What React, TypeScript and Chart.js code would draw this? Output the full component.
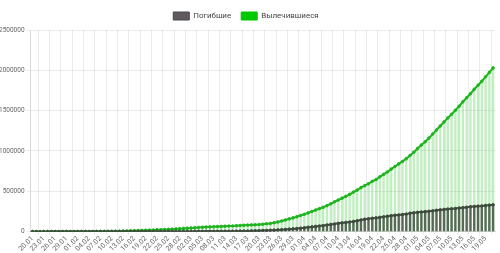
import React, { useEffect, useRef } from "react";
import { Chart, registerables } from "chart.js";

Chart.register(...registerables);

const dates: string[] = [
  "20.01","21.01","22.01","23.01","24.01","25.01","26.01","27.01","28.01","29.01","30.01","31.01",
  "01.02","02.02","03.02","04.02","05.02","06.02","07.02","08.02","09.02","10.02","11.02","12.02","13.02","14.02","15.02","16.02","17.02","18.02","19.02","20.02","21.02","22.02","23.02","24.02","25.02","26.02","27.02","28.02","29.02",
  "01.03","02.03","03.03","04.03","05.03","06.03","07.03","08.03","09.03","10.03","11.03","12.03","13.03","14.03","15.03","16.03","17.03","18.03","19.03","20.03","21.03","22.03","23.03","24.03","25.03","26.03","27.03","28.03","29.03","30.03","31.03",
  "01.04","02.04","03.04","04.04","05.04","06.04","07.04","08.04","09.04","10.04","11.04","12.04","13.04","14.04","15.04","16.04","17.04","18.04","19.04","20.04","21.04","22.04","23.04","24.04","25.04","26.04","27.04","28.04","29.04","30.04",
  "01.05","02.05","03.05","04.05","05.05","06.05","07.05","08.05","09.05","10.05","11.05","12.05","13.05","14.05","15.05","16.05","17.05","18.05","19.05","20.05","21.05",
];

const deaths: number[] = [
  6, 9, 17, 18, 26, 42, 56, 82, 131, 133, 171, 213,
  259, 362, 426, 492, 564, 634, 719, 806, 906, 1013, 1113, 1118, 1371, 1523, 1666, 1770, 1868, 2007, 2122, 2247, 2251, 2458, 2469, 2629, 2708, 2770, 2814, 2872, 2941,
  2996, 3085, 3160, 3254, 3348, 3460, 3558, 3803, 3996, 4262, 4615, 4720, 5404, 5819, 6440, 7126, 7905, 8733, 9867, 11299, 12973, 14623, 16497, 18615, 21181, 23970, 27198, 30652, 33925, 37582, 42107,
  46809, 52983, 58787, 64606, 69374, 74565, 81865, 88338, 95455, 102525, 108503, 114091, 119482, 125984, 134177, 143800, 153822, 159510, 165044, 169985, 176583, 183066, 190858, 197159, 202846, 206544, 211167, 217153, 227638, 233388,
  238650, 243808, 247470, 251537, 257239, 263855, 269567, 274898, 279311, 282709, 286330, 291942, 297197, 302418, 307666, 311781, 315185, 318481, 323286, 328115, 332924,
];

const recovered: number[] = [
  25, 25, 28, 30, 36, 39, 52, 61, 107, 126, 143, 222,
  284, 472, 623, 852, 1124, 1487, 2011, 2616, 3244, 3946, 4683, 5150, 6295, 8058, 9395, 10865, 12583, 14352, 16121, 18177, 18890, 22886, 23394, 25227, 27905, 30384, 33277, 36711, 39782,
  42716, 45602, 48228, 51170, 53796, 55865, 58358, 60694, 62494, 64404, 67003, 68324, 70251, 72624, 76034, 78088, 80840, 83207, 84854, 87256, 91499, 97704, 101000, 110000, 120000, 132000, 145000, 158000, 170000, 185000, 200000,
  215000, 232000, 250000, 268000, 285000, 302000, 322000, 345000, 370000, 392000, 415000, 438000, 462000, 490000, 515000, 545000, 570000, 594000, 624000, 646000, 680000, 710000, 740000, 775000, 808000, 840000, 870000, 905000, 945000, 985000,
  1030000, 1075000, 1115000, 1160000, 1210000, 1260000, 1310000, 1360000, 1410000, 1455000, 1505000, 1555000, 1610000, 1660000, 1710000, 1765000, 1815000, 1865000, 1920000, 1975000, 2030000,
];

const seriesNames: string[] = ["Погибшие", "Вылечившиеся"];
const yTicks: number[] = [0, 500000, 1000000, 1500000, 2000000, 2500000];

export default function App() {
  const ref = useRef<HTMLCanvasElement | null>(null);

  useEffect(() => {
    if (!ref.current) return;
    const family = "Roboto, 'Noto Sans', sans-serif";
    const chart = new Chart(ref.current, {
      type: "bar",
      data: {
        labels: dates,
        datasets: [
          {
            type: "line",
            label: seriesNames[0],
            data: deaths,
            borderColor: "#3e4c3e",
            backgroundColor: "#5e5a5e",
            borderWidth: 2,
            pointRadius: 1.3,
            pointBorderWidth: 1,
            pointBackgroundColor: "#3e4c3e",
            pointBorderColor: "#3e4c3e",
            order: 0,
          } as any,
          {
            type: "line",
            label: seriesNames[1],
            data: recovered,
            borderColor: "#1fb51f",
            backgroundColor: "#00c800",
            borderWidth: 2,
            pointRadius: 1.3,
            pointBorderWidth: 1,
            pointBackgroundColor: "#1fb51f",
            pointBorderColor: "#1fb51f",
            order: 0,
          } as any,
          {
            type: "bar",
            label: "bar-" + seriesNames[0],
            data: deaths,
            backgroundColor: "rgba(50,62,50,0.75)",
            grouped: false,
            barPercentage: 0.7,
            categoryPercentage: 0.9,
            order: 1,
          } as any,
          {
            type: "bar",
            label: "bar-" + seriesNames[1],
            data: recovered,
            backgroundColor: "rgba(80,210,80,0.35)",
            grouped: false,
            barPercentage: 0.7,
            categoryPercentage: 0.9,
            order: 2,
          } as any,
        ],
      },
      options: {
        animation: false,
        responsive: true,
        maintainAspectRatio: false,
        layout: { padding: { left: 0, right: 5, top: 2, bottom: 0 } },
        plugins: {
          tooltip: { enabled: false },
          legend: {
            position: "top",
            labels: {
              generateLabels: (c: any) =>
                Chart.defaults.plugins.legend.labels
                  .generateLabels(c)
                  .filter((l: any) => !String(l.text).startsWith("bar-"))
                  .map((l: any, i: number) => ({
                    ...l,
                    lineWidth: 1,
                    strokeStyle: i === 0 ? "#4a474a" : "#00c800",
                  })),
              boxWidth: 16,
              boxHeight: 8,
              padding: 10,
              color: "#444",
              font: { family, size: 8 },
            },
          },
        },
        scales: {
          x: {
            offset: true,
            grid: { offset: true, color: "rgba(0,0,0,0.08)", tickLength: 3 },
            border: { color: "rgba(0,0,0,0.15)" },
            ticks: {
              autoSkip: false,
              maxRotation: 45,
              minRotation: 45,
              padding: 0,
              color: "#666",
              font: { family, size: 7 },
              callback: (_v: any, i: number) => (i % 3 === 0 ? dates[i] : null),
            },
          },
          y: {
            min: yTicks[0],
            max: yTicks[yTicks.length - 1],
            grid: { color: "rgba(0,0,0,0.08)", tickLength: 4 },
            border: { color: "rgba(0,0,0,0.15)" },
            afterBuildTicks: (axis: any) => {
              axis.ticks = yTicks.map((v) => ({ value: v }));
            },
            ticks: {
              padding: 2,
              color: "#666",
              font: { family, size: 6.5 },
              callback: (v: any) => String(v),
            },
          },
        },
      },
    });
    return () => chart.destroy();
  }, []);

  return (
    <div style={{ position: "absolute", left: -3, top: 0, width: 503, height: 253 }}>
      <canvas ref={ref} />
    </div>
  );
}
